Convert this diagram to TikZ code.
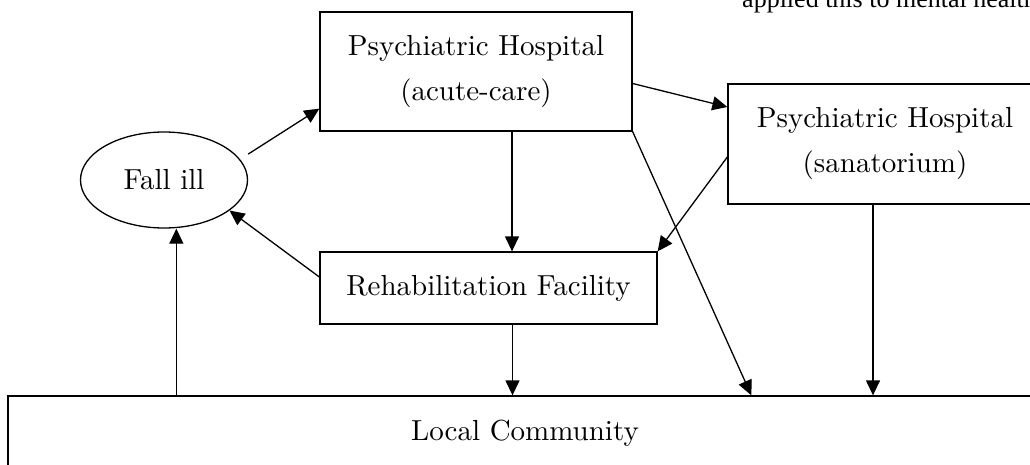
\documentclass[tikz,border=0pt]{standalone}
\usepackage{fontspec}
\setmainfont{lmroman10-regular}[Extension=.otf]
\newfontfamily\timesfont{Liberation Serif}
\usepackage{tikz}
\usetikzlibrary{calc,positioning,shapes.geometric,arrows.meta}

\begin{document}
\begin{tikzpicture}[x=1pt,y=-1pt,
    box/.style={draw, line width=1.3pt, inner sep=0pt, align=center,
        font=\fontsize{29}{45}\selectfont},
    arr/.style={line width=1.3pt, -{Triangle[length=15pt,width=14pt]}}]
    % Page
    \useasboundingbox (0,0) rectangle (1030,465);
    \clip (0,0) rectangle (1030,465);
    % Cut-off line of the page text
    \node[anchor=base west, inner sep=0pt, font=\timesfont\fontsize{26}{30}\selectfont]
        (pagetext) at (742,7.5) {applied this to mental health};
    % Boxes
    \node[box, minimum width=312pt, minimum height=119pt] (acute) at (476,71.5)
        {Psychiatric Hospital\\(acute-care)};
    \node[box, minimum width=314pt, minimum height=120pt] (sana) at (885,144)
        {Psychiatric Hospital\\(sanatorium)};
    \node[box, minimum width=337pt, minimum height=72pt] (rehab) at (488.5,288)
        {Rehabilitation Facility};
    \node[box, ellipse, minimum width=167pt, minimum height=96pt] (fall) at (164,180)
        {Fall ill};
    \node[box, minimum width=1034pt, minimum height=74pt] (comm) at (525,433)
        {Local Community};
    % Arrows
    \draw[arr] ([xshift=13pt]fall.20) -- ([yshift=23pt]acute.south west);
    \draw[arr] ([yshift=-12pt]acute.east) -- ([yshift=37pt]sana.west);
    \draw[arr] ([xshift=36pt]acute.south) -- ([xshift=36pt]acute.south |- rehab.north);
    \draw[arr] (acute.south east) -- ([xshift=744pt]comm.north west);
    \draw[arr] ([yshift=-13pt]sana.west) -- (rehab.north east);
    \draw[arr] ([xshift=-12pt]sana.south) -- ([xshift=-12pt]sana.south |- comm.north);
    \draw[arr] ([xshift=24pt]rehab.south) -- ([xshift=24pt]rehab.south |- comm.north);
    \draw[arr] ([yshift=11pt]rehab.west) -- (fall.335);
    \draw[arr] ([xshift=169pt]comm.north west) -- ([xshift=169pt]comm.north west |- fall.south);
\end{tikzpicture}
\end{document}
